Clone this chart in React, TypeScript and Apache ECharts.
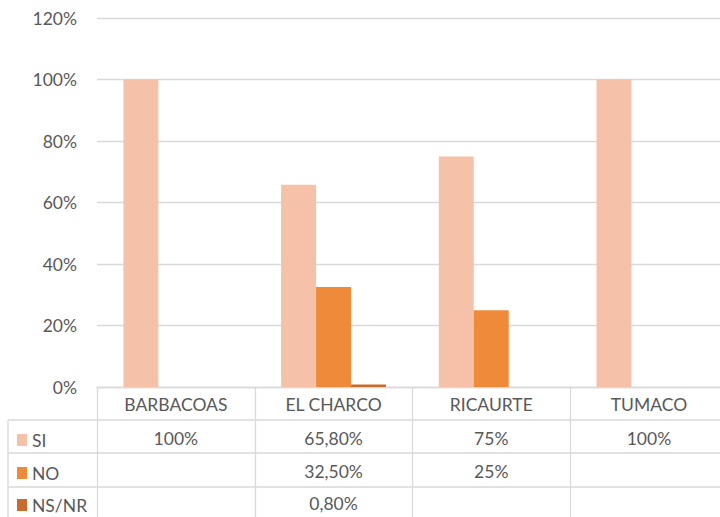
import React, { useEffect, useRef } from "react";
import * as echarts from "echarts";

const categories = ["BARBACOAS", "EL CHARCO", "RICAURTE", "TUMACO"];
const seriesNames = ["SI", "NO", "NS/NR"];
const siValues: (number | null)[] = [100, 65.8, 75, 100];
const noValues: (number | null)[] = [null, 32.5, 25, null];
const nsnrValues: (number | null)[] = [null, 0.8, null, null];
const colors = ["#F5C1A9", "#EE8A3A", "#C96B2C"];
const yMin = 0;
const yMax = 120;
const yInterval = 20;

const FONT = "Lato, 'Open Sans', sans-serif";
const TEXT = "#595959";
const LINE = "#D9D9D9";
const FS = 17.5;

const gridLeft = 97;
const gridTop = 18;
const axisY = 387;
const W = 720;
const H = 517;
const catW = 157.7;
const rowLines = [420, 453, 487];
const rowCenters = [437, 470, 502];
const tableLeft = 8;
const CW = Math.ceil(gridLeft + catW * categories.length) + 2;

function fmt(v: number | null): string {
  if (v === null || v === undefined) return "";
  if (Number.isInteger(v)) return v + "%";
  return v.toFixed(2).replace(".", ",") + "%";
}

export default function App() {
  const ref = useRef<HTMLDivElement>(null);
  useEffect(() => {
    if (!ref.current) return;
    const chart = echarts.init(ref.current, undefined, { renderer: "svg" });
    const allValues = [siValues, noValues, nsnrValues];
    const rowOffsets = [34, 67, 99];

    const tableAxes = allValues.map((vals, i) => ({
      type: "category" as const,
      gridIndex: 0,
      position: "bottom" as const,
      offset: rowOffsets[i],
      data: categories,
      axisLine: { show: false },
      axisTick: { show: false },
      splitLine: { show: false },
      axisLabel: {
        interval: 0,
        margin: 8,
        fontFamily: FONT,
        fontSize: FS,
        color: TEXT,
        formatter: (_v: string, idx: number) => fmt(vals[idx]),
      },
    }));

    const graphics: any[] = [];
    const lineStyle = { stroke: LINE, lineWidth: 1.3 };
    rowLines.forEach((y) => {
      graphics.push({ type: "line", shape: { x1: tableLeft, y1: y, x2: CW, y2: y }, style: lineStyle, silent: true });
    });
    graphics.push({ type: "line", shape: { x1: tableLeft, y1: rowLines[0], x2: tableLeft, y2: H }, style: lineStyle, silent: true });
    for (let k = 0; k <= categories.length; k++) {
      const x = Math.round(gridLeft + k * catW) + 0.5;
      graphics.push({ type: "line", shape: { x1: x, y1: axisY, x2: x, y2: H }, style: lineStyle, silent: true });
    }

    const legends = seriesNames.map((name, i) => ({
      orient: "horizontal",
      left: 12,
      top: rowCenters[i] - 11,
      padding: 5,
      itemWidth: 10,
      itemHeight: 12,
      icon: "rect",
      selectedMode: false,
      data: [name],
      textStyle: { fontFamily: FONT, fontSize: FS, color: TEXT },
    }));

    chart.setOption({
      animation: false,
      textStyle: { fontFamily: FONT },
      grid: {
        left: gridLeft,
        width: catW * categories.length,
        top: gridTop,
        height: axisY - gridTop,
        containLabel: false,
        outerBoundsMode: "none",
      },
      legend: legends,
      xAxis: [
        {
          type: "category",
          data: categories,
          axisLine: { show: true, lineStyle: { color: LINE, width: 1.3 } },
          axisTick: { show: false },
          axisLabel: { interval: 0, margin: 8, fontFamily: FONT, fontSize: FS, color: TEXT },
        },
        ...tableAxes,
      ],
      yAxis: {
        type: "value",
        min: yMin,
        max: yMax,
        interval: yInterval,
        axisLine: { show: false },
        axisTick: { show: false },
        splitLine: { lineStyle: { color: LINE, width: 1.3 } },
        axisLabel: {
          margin: 20,
          fontFamily: FONT,
          fontSize: FS,
          color: TEXT,
          formatter: (v: number) => v + "%",
        },
      },
      series: allValues.map((vals, i) => ({
        name: seriesNames[i],
        type: "bar",
        data: vals,
        barGap: "0%",
        barCategoryGap: "33.5%",
        itemStyle: { color: colors[i] },
      })),
      graphic: graphics,
    });
    return () => chart.dispose();
  }, []);
  return (
    <div style={{ position: "absolute", left: 0, top: 0, width: W, height: H, overflow: "hidden", background: "#fff" }}>
      <div ref={ref} style={{ width: CW, height: H }} />
    </div>
  );
}
